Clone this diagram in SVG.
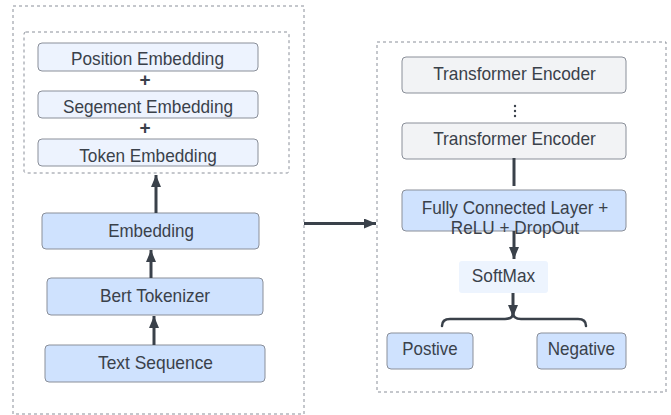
<svg xmlns="http://www.w3.org/2000/svg" width="671" height="415" viewBox="0 0 671 415">
  <defs>
    <marker id="arrow" markerUnits="userSpaceOnUse" markerWidth="13" markerHeight="10" refX="12" refY="5" orient="auto">
      <path d="M0,0 L12,5 L0,10 Z" fill="#3a414a"/>
    </marker>
    <style>
      .frame { fill: none; stroke: #8a8f99; stroke-width: 1; stroke-dasharray: 3 3; }
      .box { stroke: #8a8f99; stroke-width: 1; }
      .pale { fill: #edf3fe; }
      .blue { fill: #cfe2fe; }
      .grey { fill: #f2f3f5; }
      .soft { fill: #edf4fe; stroke: none; }
      .label { font-family: "Liberation Sans", Arial, sans-serif; font-size: 18.5px; fill: #3a414a; text-anchor: middle; }
      .plus { font-family: "Liberation Sans", Arial, sans-serif; font-size: 19px; font-weight: bold; fill: #3a414a; text-anchor: middle; }
      .wire { fill: none; stroke: #3a414a; stroke-width: 3; }
      .brace { fill: none; stroke: #3a414a; stroke-width: 2.5; stroke-linecap: round; stroke-linejoin: round; }
    </style>
  </defs>

  <!-- dashed containers -->
  <g id="bert-input-frame">
    <rect class="frame" x="13" y="6" width="291" height="408"/>
  </g>
  <g id="embedding-sum-frame">
    <rect class="frame" x="24" y="32" width="265" height="141" rx="2"/>
  </g>
  <g id="classifier-frame">
    <rect class="frame" x="377" y="42" width="289" height="350"/>
  </g>

  <!-- embedding components -->
  <g id="position-embedding">
    <rect class="box pale" x="38" y="43" width="220" height="28" rx="4"/>
    <text class="label" x="147.5" y="65" textLength="153" lengthAdjust="spacingAndGlyphs">Position Embedding</text>
  </g>
  <g id="plus-1">
    <text class="plus" x="145" y="86">+</text>
  </g>
  <g id="segment-embedding">
    <rect class="box pale" x="38" y="91" width="220" height="27" rx="4"/>
    <text class="label" x="148" y="113" textLength="170" lengthAdjust="spacingAndGlyphs">Segement Embedding</text>
  </g>
  <g id="plus-2">
    <text class="plus" x="145" y="134">+</text>
  </g>
  <g id="token-embedding">
    <rect class="box pale" x="38" y="139" width="220" height="27" rx="4"/>
    <text class="label" x="148" y="161.5" textLength="137.5" lengthAdjust="spacingAndGlyphs">Token Embedding</text>
  </g>

  <!-- input pipeline -->
  <g id="embedding">
    <rect class="box blue" x="42" y="213" width="217" height="36" rx="4"/>
    <text class="label" x="151" y="237" textLength="85.7" lengthAdjust="spacingAndGlyphs">Embedding</text>
  </g>
  <g id="bert-tokenizer">
    <rect class="box blue" x="47" y="278" width="216" height="37" rx="4"/>
    <text class="label" x="155" y="301.5" textLength="110" lengthAdjust="spacingAndGlyphs">Bert Tokenizer</text>
  </g>
  <g id="text-sequence">
    <rect class="box blue" x="45" y="345" width="220" height="37" rx="4"/>
    <text class="label" x="155.5" y="369" textLength="115" lengthAdjust="spacingAndGlyphs">Text Sequence</text>
  </g>

  <!-- classifier -->
  <g id="transformer-encoder-1">
    <rect class="box grey" x="402" y="57" width="224" height="36" rx="4"/>
    <text class="label" x="514.5" y="80" textLength="162.7" lengthAdjust="spacingAndGlyphs">Transformer Encoder</text>
  </g>
  <g id="ellipsis">
    <circle cx="515" cy="106" r="1.2" fill="#3a414a"/>
    <circle cx="515" cy="111" r="1.2" fill="#3a414a"/>
    <circle cx="515" cy="116" r="1.2" fill="#3a414a"/>
  </g>
  <g id="transformer-encoder-2">
    <rect class="box grey" x="402" y="123" width="224" height="36" rx="4"/>
    <text class="label" x="514.5" y="145" textLength="162.7" lengthAdjust="spacingAndGlyphs">Transformer Encoder</text>
  </g>
  <g id="fully-connected">
    <rect class="box blue" x="402" y="190" width="224" height="41" rx="4"/>
    <text class="label" x="515" y="213.5" textLength="186.7" lengthAdjust="spacingAndGlyphs">Fully Connected Layer +</text>
    <text class="label" x="515" y="234" textLength="128.3" lengthAdjust="spacingAndGlyphs">ReLU + DropOut</text>
  </g>
  <g id="softmax">
    <rect class="soft" x="459" y="261" width="89" height="32" rx="3"/>
    <text class="label" x="503.5" y="282" textLength="63.3" lengthAdjust="spacingAndGlyphs">SoftMax</text>
  </g>
  <g id="positive">
    <rect class="box blue" x="387" y="333" width="86" height="36" rx="4"/>
    <text class="label" x="430" y="355" textLength="55.3" lengthAdjust="spacingAndGlyphs">Postive</text>
  </g>
  <g id="negative">
    <rect class="box blue" x="537" y="333" width="89" height="36" rx="4"/>
    <text class="label" x="581.3" y="355" textLength="67.3" lengthAdjust="spacingAndGlyphs">Negative</text>
  </g>

  <!-- connectors -->
  <g id="connectors">
    <line class="wire" x1="154" y1="345" x2="154" y2="316" marker-end="url(#arrow)"/>
    <line class="wire" x1="151" y1="278" x2="151" y2="250" marker-end="url(#arrow)"/>
    <line class="wire" x1="156" y1="213" x2="156" y2="175" marker-end="url(#arrow)"/>
    <line class="wire" x1="304" y1="223.5" x2="376" y2="223.5" marker-end="url(#arrow)"/>
    <line class="wire" x1="514" y1="158" x2="514" y2="186"/>
    <line class="wire" x1="514" y1="231" x2="514" y2="259" marker-end="url(#arrow)"/>
    <line class="wire" x1="513" y1="293" x2="513" y2="317" marker-end="url(#arrow)"/>
    <path class="brace" d="M442,326 Q442,319 450,319 L505,319 Q513,319 513,313 Q513,319 521,319 L578,319 Q586,319 586,326"/>
  </g>
</svg>
